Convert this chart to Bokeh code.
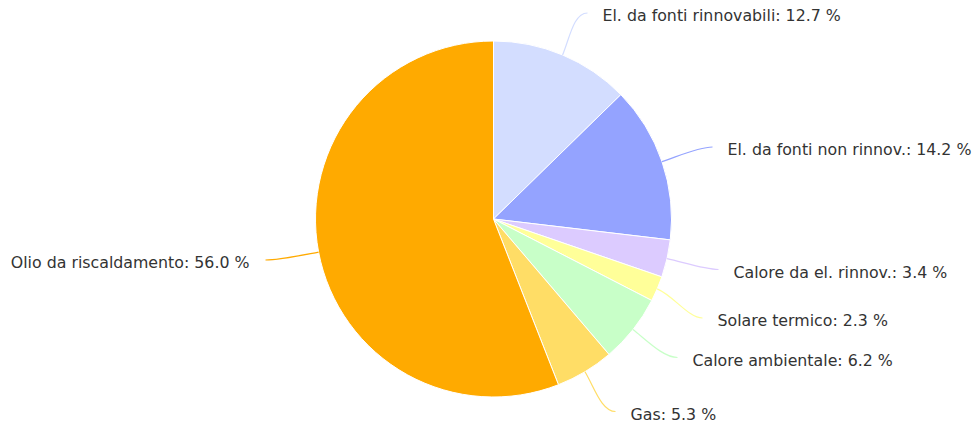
import math
from bokeh.plotting import figure
from bokeh.models import Range1d, ColumnDataSource
from bokeh.core.properties import value
from bokeh.embed import file_html
from bokeh.resources import INLINE

# ---- data ----
categories = ["El. da fonti rinnovabili", "El. da fonti non rinnov.", "Calore da el. rinnov.",
              "Solare termico", "Calore ambientale", "Gas", "Olio da riscaldamento"]
shares = [12.7, 14.2, 3.4, 2.3, 6.2, 5.3, 56.0]
colors = ["#d3ddff", "#94a3ff", "#dccbff", "#ffff99", "#c8ffc8", "#ffdd66", "#ffaa00"]

# ---- layout (pixel space, origin top-left) ----
W, H = 977, 428
CX, CY, R = 493, 218.5, 178
# label anchor (x, y center); right side labels anchored left, left side anchored right
label_x = [602, 727, 733, 717, 692, 630, 249]
label_y = [15, 149, 271.5, 320, 359.5, 413.5, 262]

def fy(py):
    return H - py

p = figure(width=W, height=H, x_range=Range1d(0, W), y_range=Range1d(0, H),
           x_axis_type=None, y_axis_type=None, toolbar_location=None,
           output_backend="svg", min_border=0)
p.outline_line_color = None
p.grid.visible = False
p.background_fill_color = "white"
p.border_fill_color = "white"

total = sum(shares)
starts, ends, mids = [], [], []
cum = 0.0
for s in shares:
    a0 = cum / total
    cum += s
    a1 = cum / total
    starts.append(math.pi / 2 - 2 * math.pi * a0)
    ends.append(math.pi / 2 - 2 * math.pi * a1)
    mids.append(2 * math.pi * (a0 + a1) / 2)  # clockwise from top

src = ColumnDataSource(dict(start=starts, end=ends, color=colors))
p.wedge(x=CX, y=fy(CY), radius=R, start_angle="start", end_angle="end", direction="clock",
        fill_color="color", line_color="white", line_width=1, source=src)

# connectors
bx0, by0, bx1, by1, bcx0, bcy0, bcx1, bcy1 = [], [], [], [], [], [], [], []
for i, th in enumerate(mids):
    sx = CX + R * math.sin(th)
    sy = CY - R * math.cos(th)
    right = math.sin(th) >= 0
    ex = label_x[i] - 15 if right else label_x[i] + 16
    ey = label_y[i] - 2.5
    c0x = CX + (R + 18) * math.sin(th)
    c0y = CY - (R + 18) * math.cos(th)
    c1x = ex - 14 if right else ex + 14
    c1y = ey
    bx0.append(sx); by0.append(fy(sy)); bx1.append(ex); by1.append(fy(ey))
    bcx0.append(c0x); bcy0.append(fy(c0y)); bcx1.append(c1x); bcy1.append(fy(c1y))

p.bezier(x0=bx0, y0=by0, x1=bx1, y1=by1, cx0=bcx0, cy0=bcy0, cx1=bcx1, cy1=bcy1,
         line_color=colors, line_width=1.2)

# labels
texts = [f"{c}: {v:.1f} %" for c, v in zip(categories, shares)]
aligns = ["left" if math.sin(th) >= 0 else "right" for th in mids]
lsrc = ColumnDataSource(dict(x=label_x, y=[fy(v) for v in label_y], t=texts, a=aligns))
p.text(x="x", y="y", text="t", text_align="a", text_baseline="middle",
       text_font=value("DejaVu Sans"), text_font_size="15.8px", text_color="#333333", source=lsrc)

open("out.html", "w").write(file_html(p, INLINE))
